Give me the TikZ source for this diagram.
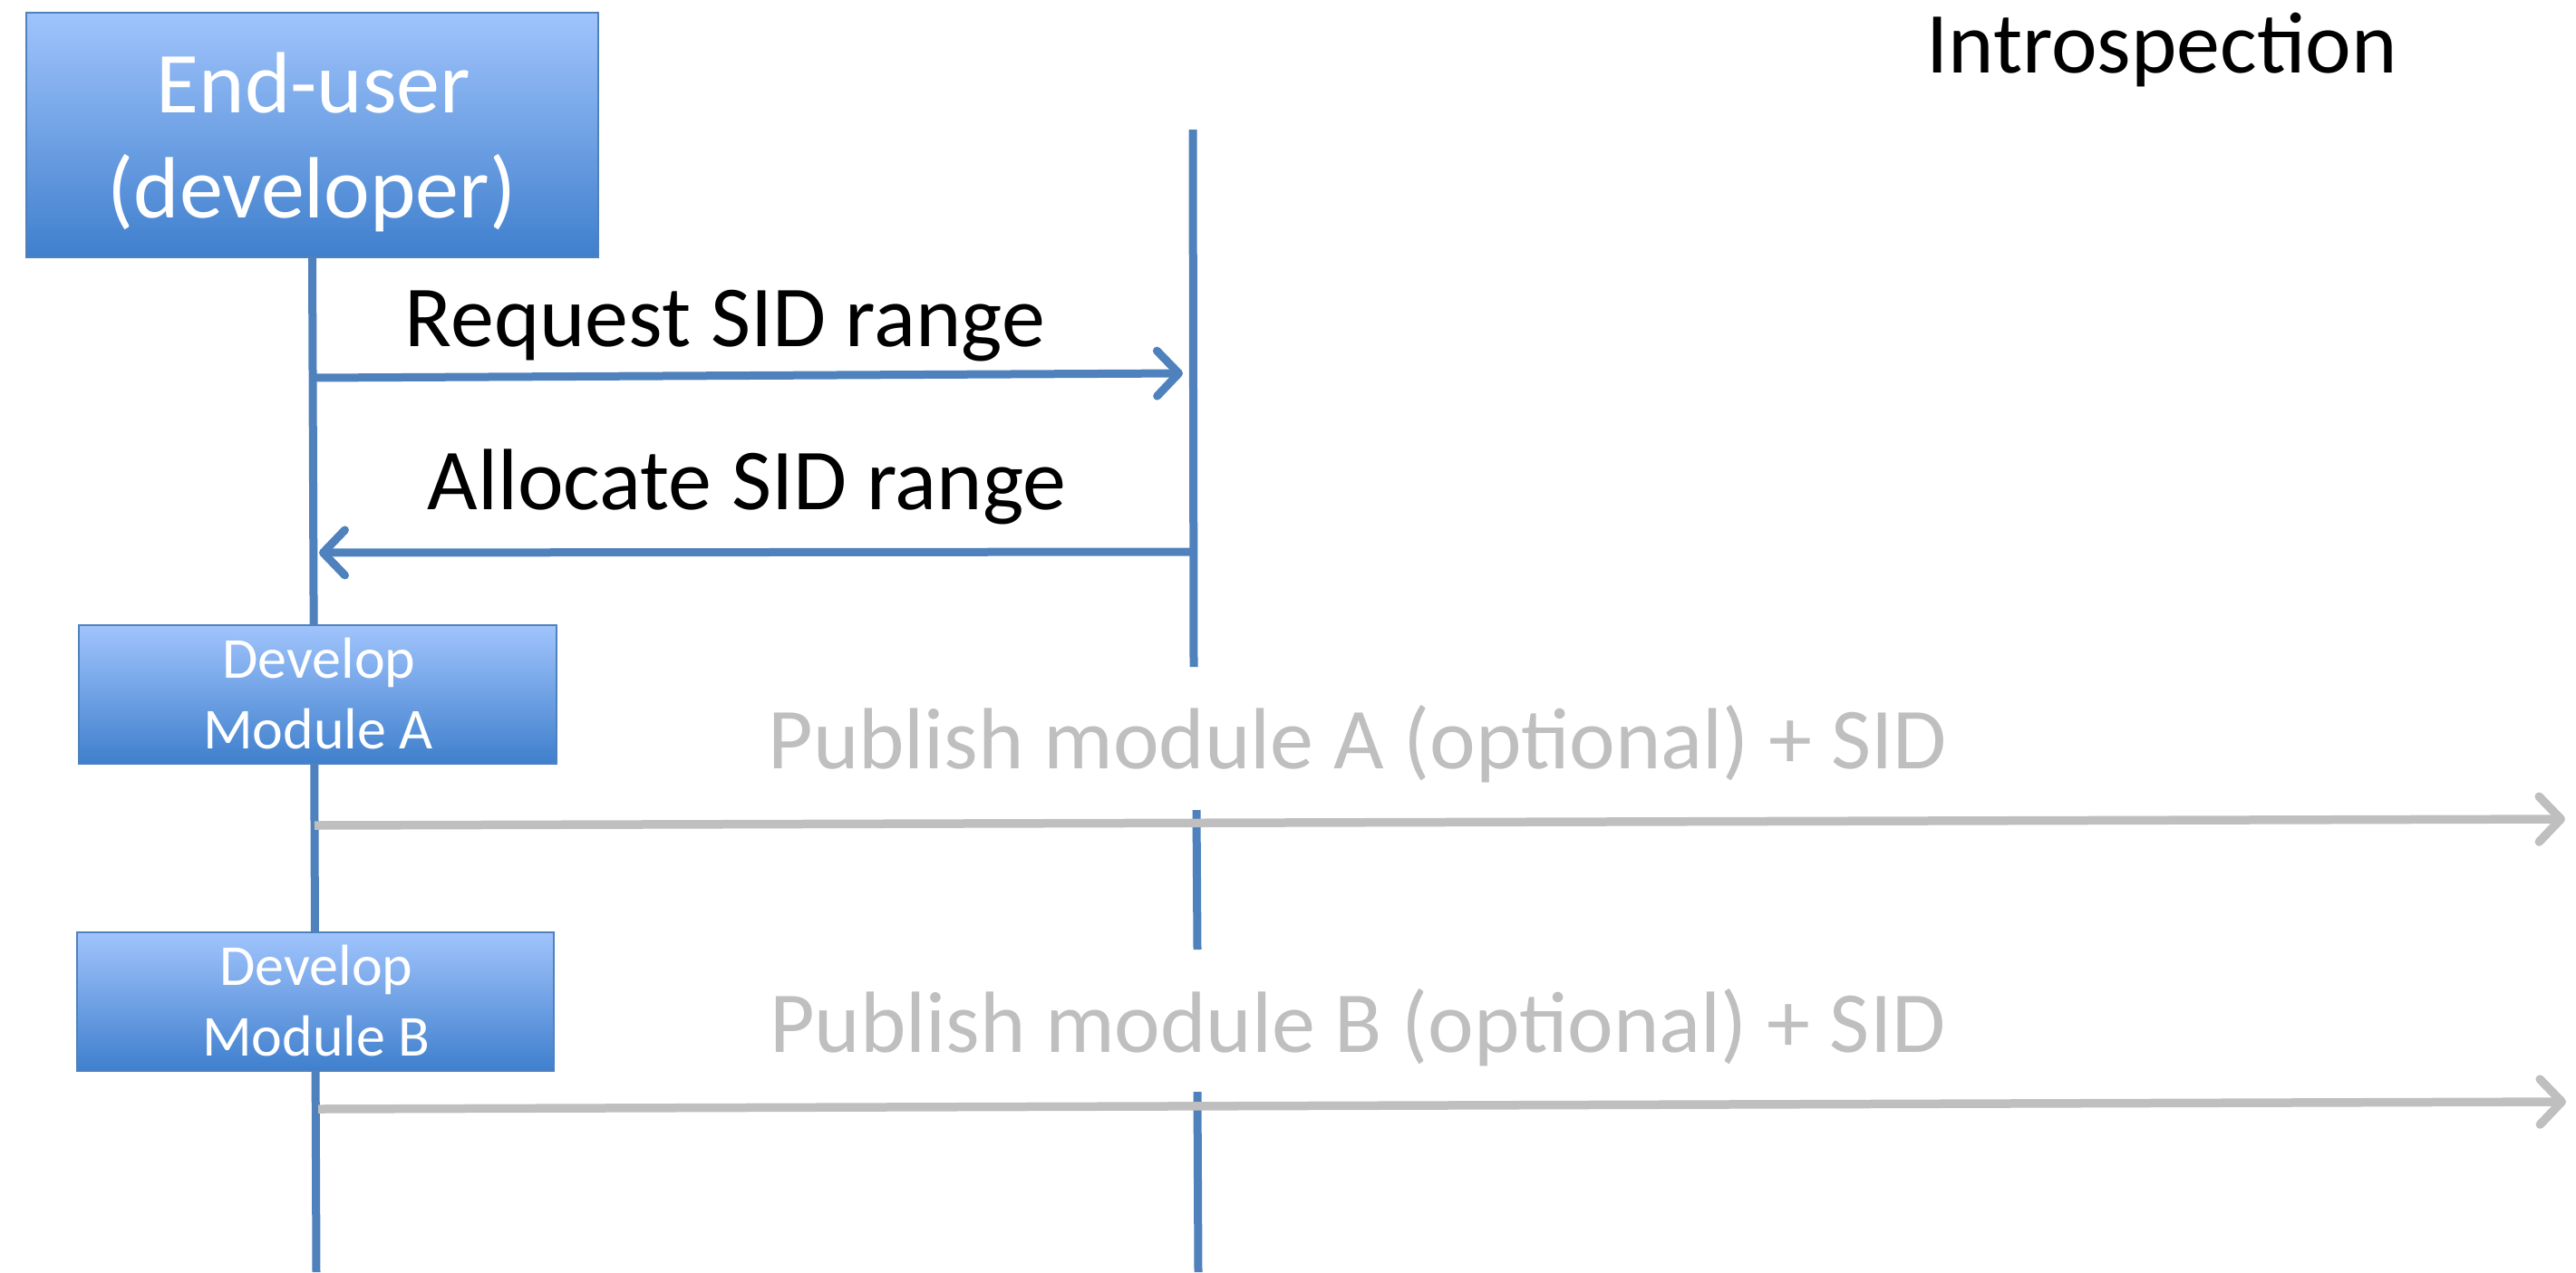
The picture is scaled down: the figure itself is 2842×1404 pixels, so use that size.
\documentclass[tikz,border=0pt]{standalone}
\usepackage{fontspec}
\setmainfont{Carlito}
\usetikzlibrary{arrows.meta}
\definecolor{lblue}{RGB}{79,129,189}
\definecolor{lgray}{RGB}{191,191,191}
\definecolor{gtop}{RGB}{160,196,252}
\definecolor{gbot}{RGB}{63,127,205}
\begin{document}
\begin{tikzpicture}[x=0.5pt,y=-0.5pt,
  actor/.style={draw=lblue, line width=1pt, top color=gtop, bottom color=gbot, inner sep=0pt, rectangle},
  wtxt/.style={text=white, anchor=base, inner sep=0pt},
  bigfont/.style={font=\fontsize{48}{58}\selectfont},
  smallfont/.style={font=\fontsize{32}{38}\selectfont},
  life/.style={draw=lblue, line width=4.5pt},
  barb/.style={-{Straight Barb[length=12pt,width=25pt,line cap=round,line join=round]}},
  msg/.style={draw=lblue, line width=4.5pt, barb},
  pub/.style={draw=lgray, line width=4.75pt, barb},
  lbl/.style={anchor=base, inner sep=0pt, bigfont}]
\useasboundingbox (0,0) rectangle (2842,1404);

% End-user box
\node[actor, minimum width=315.5pt, minimum height=135pt] (user) at (344.5,149) {};
\node[wtxt, bigfont] (u1) at (346,124) {End-user};
\node[wtxt, bigfont] (u2) at (344,240) {(developer)};

% lifelines
\coordinate (lbot) at (349,1404);
\draw[life] (user.south) -- (lbot);
\coordinate (r1) at (1316,143);
\coordinate (r2) at (1317,736);
\coordinate (r3) at (1320,894);
\coordinate (r4) at (1321,1048);
\coordinate (r5) at (1321,1205);
\coordinate (r6) at (1322,1404);
\draw[life] (r1) -- (r2);
\draw[life] (r3) -- (r4);
\draw[life] (r5) -- (r6);

% develop boxes
\node[actor, minimum width=263.5pt, minimum height=76.5pt] (devA) at (350.5,766.5) {};
\node[wtxt, smallfont] (a1) at (352,748) {Develop};
\node[wtxt, smallfont] (a2) at (351,826) {Module A};
\node[actor, minimum width=263pt, minimum height=76.5pt] (devB) at (348,1105.5) {};
\node[wtxt, smallfont] (b1) at (349,1087) {Develop};
\node[wtxt, smallfont] (b2) at (349,1165) {Module B};

% messages
\coordinate (rqS) at (345,417);
\coordinate (rqE) at (1305,412);
\draw[msg] (rqS) -- (rqE);
\node[lbl] (rqL) at (800,382) {Request SID range};

\coordinate (alS) at (1317,609);
\coordinate (alE) at (352,610);
\draw[msg] (alS) -- (alE);
\node[lbl] (alL) at (824,562) {Allocate SID range};

\coordinate (paS) at (347,911);
\coordinate (paE) at (2830,904);
\draw[pub] (paS) -- (paE);
\node[lbl, text=lgray] (paL) at (1498,848) {Publish module A (optional) + SID};

\coordinate (pbS) at (351,1224);
\coordinate (pbE) at (2831,1216);
\draw[pub] (pbS) -- (pbE);
\node[lbl, text=lgray] (pbL) at (1498,1161) {Publish module B (optional) + SID};

\node[lbl] (intro) at (2385,80) {Introspection};
\end{tikzpicture}
\end{document}
